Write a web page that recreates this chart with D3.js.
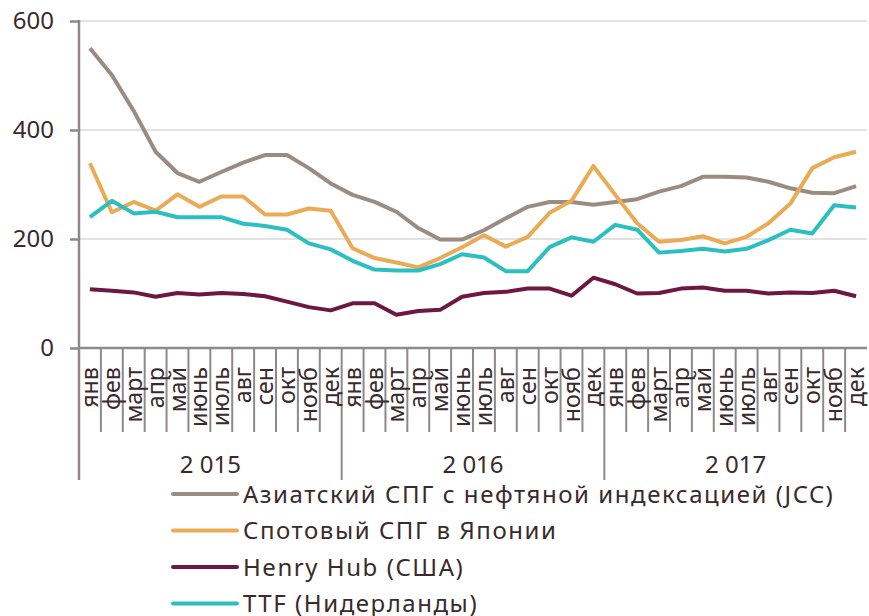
<!DOCTYPE html>
<html><head><meta charset="utf-8">
<script src="https://cdn.jsdelivr.net/npm/d3@7"></script>
<style>
body{margin:0;background:#fff;}
text{font-family:"Noto Sans",sans-serif;fill:#3a2a2c;}
</style></head>
<body><svg id="c" width="869" height="616"></svg>
<script>
const months = ["янв","фев","март","апр","май","июнь","июль","авг","сен","окт","нояб","дек"];
const years = ["2 015","2 016","2 017"];
const yTicks = [0,200,400,600];
const seriesNames = ["Азиатский СПГ с нефтяной индексацией (JCC)","Спотовый СПГ в Японии","Henry Hub (США)","TTF (Нидерланды)"];
const seriesColors = ["#9b8c82","#e9ab55","#6c1843","#2cbfbf"];
const jcc = [550,501,435,360,321,305,323,340,354,354,330,302, 281,268,250,220,199,199,216,238,259,268,268,263, 268,273,287,297,314,314,313,305,293,285,284,297];
const spotJapan = [339,249,268,252,282,259,278,278,245,245,256,252, 183,165,157,148,165,185,207,186,204,248,270,334, 281,229,195,198,205,192,204,229,265,330,350,360];
const henryHub = [108,105,102,94,101,98,101,99,95,85,75,69, 82,82,61,68,70,94,101,103,109,109,96,129, 117,100,101,109,111,105,105,100,102,101,105,95];
const ttf = [240,270,247,250,240,240,240,228,224,217,192,181, 160,144,142,142,154,172,166,141,141,185,203,195, 226,217,175,178,182,177,182,198,217,210,262,258];
const seriesValues = [jcc, spotJapan, henryHub, ttf];

const svg = d3.select("#c");
const n = months.length * years.length;
const idx = d3.range(n);
const x = d3.scaleBand().domain(idx).range([79, 867]).padding(0);
const y = d3.scaleLinear().domain([0, 600]).range([348, 21]);
const axisCol = "#8f8888";

// gridlines
svg.append("g").selectAll("line").data(yTicks.filter(d => d > 0)).join("line")
  .attr("x1", 79).attr("x2", 867).attr("y1", d => y(d)).attr("y2", d => y(d))
  .attr("stroke", "#d9d9d9").attr("stroke-width", 1.5);

// y axis
const yAxis = d3.axisLeft(y).tickValues(yTicks).tickSize(9).tickPadding(16).tickFormat(d3.format("d"));
const gy = svg.append("g").attr("transform", "translate(79,0)").call(yAxis);
gy.select(".domain").remove();
gy.selectAll(".tick line").attr("stroke", axisCol).attr("stroke-width", 2.5);
gy.selectAll(".tick text").attr("font-size", 24).attr("font-family", "Noto Sans").attr("fill", "#3a2a2c");
svg.append("line").attr("x1", 79).attr("x2", 79).attr("y1", y(600) - 1).attr("y2", 480)
  .attr("stroke", axisCol).attr("stroke-width", 2.5);

// x axis baseline
svg.append("line").attr("x1", 78).attr("x2", 867).attr("y1", y(0)).attr("y2", y(0))
  .attr("stroke", axisCol).attr("stroke-width", 2.5);

// month separators
svg.append("g").selectAll("line").data(idx.slice(1).filter(i => i % 12 !== 0)).join("line")
  .attr("x1", i => x(i)).attr("x2", i => x(i)).attr("y1", y(0)).attr("y2", 432)
  .attr("stroke", axisCol).attr("stroke-width", 2);
// year separators
svg.append("g").selectAll("line").data([12, 24]).join("line")
  .attr("x1", i => x(i)).attr("x2", i => x(i)).attr("y1", y(0)).attr("y2", 480)
  .attr("stroke", axisCol).attr("stroke-width", 2);

// month labels
svg.append("g").selectAll("text").data(idx).join("text")
  .attr("transform", i => `translate(${x(i) + x.bandwidth() / 2 + 8},367) rotate(-90) scale(0.97,1)`)
  .attr("text-anchor", "end")
  .attr("font-size", 24)
  .text(i => months[i % 12]);

// year labels
svg.append("g").selectAll("text").data(years).join("text")
  .attr("x", (d, k) => (x(k * 12) + x(k * 12 + 11) + x.bandwidth()) / 2)
  .attr("y", 473).attr("text-anchor", "middle").attr("font-size", 24)
  .text(d => d);

// lines
const line = d3.line().x((d, i) => x(i) + x.bandwidth() / 2).y(d => y(d));
svg.append("g").selectAll("path").data(seriesValues).join("path")
  .attr("d", d => line(d)).attr("fill", "none")
  .attr("stroke", (d, k) => seriesColors[k]).attr("stroke-width", 4)
  .attr("stroke-linejoin", "round");

// legend
const lg = svg.append("g").selectAll("g").data(seriesNames).join("g")
  .attr("transform", (d, k) => `translate(0,${494 + k * 36.5})`);
lg.append("line").attr("x1", 173).attr("x2", 237).attr("y1", 0).attr("y2", 0)
  .attr("stroke", (d, k) => seriesColors[k]).attr("stroke-width", 4).attr("stroke-linecap", "round");
lg.append("text").attr("x", 243).attr("y", 8.5).attr("font-size", 24)
  .attr("letter-spacing", 1.55).text(d => d);
</script></body></html>
